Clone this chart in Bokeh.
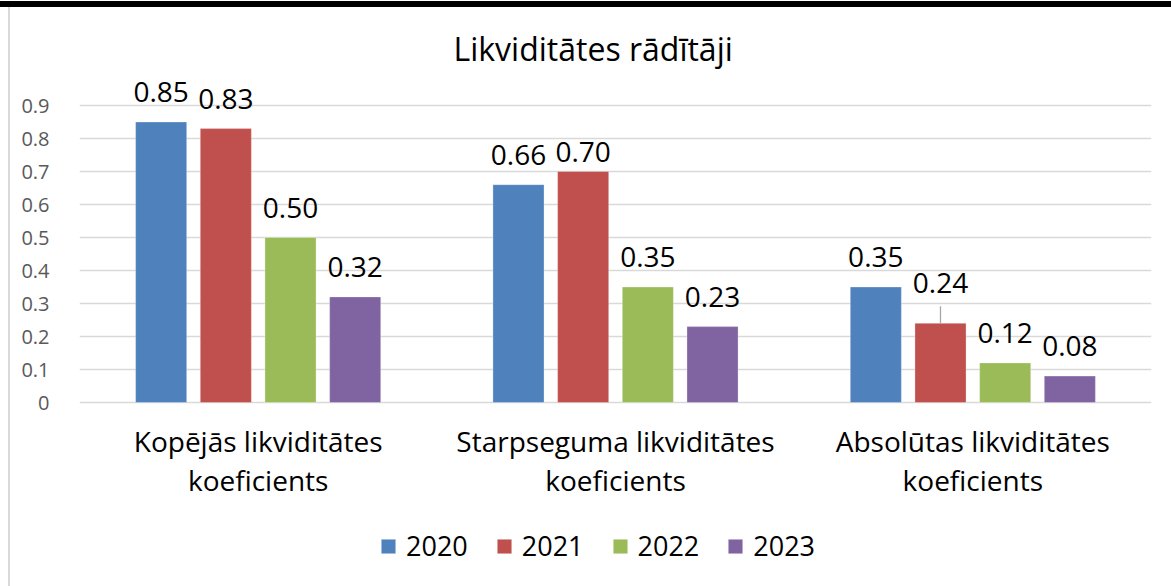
from bokeh.plotting import figure
from bokeh.models import ColumnDataSource, FixedTicker, Legend, LegendItem, Range1d
from bokeh.core.properties import value
from bokeh.embed import file_html
from bokeh.resources import INLINE
import math

# ---- data ----
categories = ["Kopējās likviditātes\nkoeficients",
              "Starpseguma likviditātes\nkoeficients",
              "Absolūtas likviditātes\nkoeficients"]
years = ["2020", "2021", "2022", "2023"]
v2020 = [0.85, 0.66, 0.35]
v2021 = [0.83, 0.70, 0.24]
v2022 = [0.50, 0.35, 0.12]
v2023 = [0.32, 0.23, 0.08]
y_ticks = [0, 0.1, 0.2, 0.3, 0.4, 0.5, 0.6, 0.7, 0.8, 0.9]

series = [v2020, v2021, v2022, v2023]
colors = ["#4F81BD", "#C0504D", "#9BBB59", "#8064A2"]
FONT = "Open Sans"

# layout (pixels): plot frame spans 72..586 vertically; value axis 0..1 covers 330 px
W, H = 1171, 586
TOP, ZERO_Y, UNIT_PX = 72, 402, 330.0
y_min = -(H - ZERO_Y) / UNIT_PX
y_max = (ZERO_Y - TOP) / UNIT_PX

p = figure(width=W, height=H, output_backend="svg", toolbar_location=None,
           x_range=Range1d(0, len(categories)), y_range=Range1d(y_min, y_max),
           min_border_left=79, min_border_right=20, min_border_top=TOP, min_border_bottom=0)
p.outline_line_color = None
p.background_fill_color = "white"
p.border_fill_alpha = 0
p.styles = {"background": "linear-gradient(#000000, #000000) 0 1px / 100% 6px no-repeat, "
                          "linear-gradient(#D9D9D9, #D9D9D9) 8px 7px / 2px 100% no-repeat, white"}

# title
p.title.text = "Likviditātes rādītāji"
p.title.align = "left"
p.title.offset = 374
p.title.text_font = FONT
p.title.text_font_size = "32px"
p.title.text_font_style = "normal"
p.title.text_color = "black"
p.title.standoff = 5

step = 0.181
bw = 0.143
renderers = []
label_xs, label_ys, label_txt, label_off = [], [], [], []
special_off = {(1, 1): -20, (2, 1): -40}
for j, (yr, vals) in enumerate(zip(years, series)):
    xs = [i + 0.5 + (j - 1.5) * step for i in range(len(categories))]
    src = ColumnDataSource(dict(x=xs, top=vals))
    r = p.vbar(x="x", top="top", width=bw, source=src, fill_color=colors[j],
               line_color="white", line_width=0.6, line_alpha=0.5)
    renderers.append((yr, r))
    for i, v in enumerate(vals):
        label_xs.append(xs[i])
        label_ys.append(v)
        label_txt.append(f"{v:.2f}")
        label_off.append(special_off.get((i, j), -30))

lsrc = ColumnDataSource(dict(x=label_xs, y=label_ys, t=label_txt, off=label_off))
p.text(x="x", y="y", text="t", source=lsrc, y_offset="off", text_align="center",
       text_baseline="alphabetic", text_font=value(FONT), text_font_size="28px",
       text_color="black")

# leader line for the shifted label (2021, third category)
p.ray(x=[2 + 0.5 + (1 - 1.5) * step], y=[v2021[2]], length=17, length_units="screen",
      angle=math.pi / 2, line_color="#A6A6A6", line_width=1.3)

# category labels under the zero line
csrc = ColumnDataSource(dict(x=[i + 0.5 for i in range(len(categories))],
                             y=[0] * len(categories), t=categories))
p.text(x="x", y="y", text="t", source=csrc, y_offset=19, text_align="center",
       text_baseline="top", text_font=value(FONT), text_font_size="28px",
       text_line_height=1.05, text_color="black")

# axes
p.xaxis.visible = False
p.yaxis.ticker = FixedTicker(ticks=y_ticks)
p.yaxis.major_label_overrides = {0: "0"}
p.yaxis.axis_line_color = None
p.yaxis.major_tick_line_color = None
p.yaxis.minor_tick_line_color = None
p.yaxis.major_label_text_font = FONT
p.yaxis.major_label_text_font_size = "20px"
p.yaxis.major_label_text_color = "#595959"
p.yaxis.major_label_standoff = 24

p.xgrid.grid_line_color = None
p.ygrid.grid_line_color = "#D9D9D9"
p.ygrid.grid_line_width = 1.5

# legend
legend = Legend(items=[LegendItem(label=yr, renderers=[r]) for yr, r in renderers],
                orientation="horizontal", location=(300, 22),
                glyph_width=18, glyph_height=18, label_standoff=9, spacing=27,
                padding=0, margin=0, border_line_color=None,
                background_fill_alpha=0, label_text_font=FONT,
                label_text_font_size="27px", label_text_color="black")
p.add_layout(legend, "center")

open("out.html", "w").write(file_html(p, INLINE))
